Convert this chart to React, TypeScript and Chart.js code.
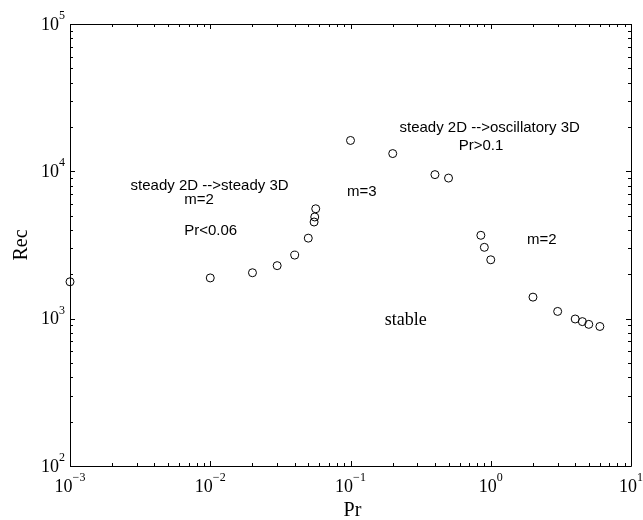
import React, { useEffect, useRef } from "react";
import { Chart, registerables } from "chart.js";

Chart.register(...registerables);

// Data (log-log)
const prValues = [0.001, 0.01, 0.02, 0.03, 0.04, 0.05, 0.055, 0.0556, 0.0565, 0.1, 0.2, 0.4, 0.5, 0.85, 0.9, 1.0, 2, 3, 4, 4.5, 5, 6];
const recValues = [1780, 1890, 2050, 2290, 2700, 3520, 4530, 4900, 5570, 16200, 13200, 9500, 9000, 3680, 3050, 2510, 1400, 1120, 995, 955, 915, 885];

// Axis decades (tick labels 10^n)
const xDecades = [-3, -2, -1, 0, 1];
const yDecades = [2, 3, 4, 5];

// Annotation texts and their data-space anchors
const noteTexts = [
  "steady 2D -->steady 3D",
  "m=2",
  "Pr<0.06",
  "m=3",
  "steady 2D -->oscillatory 3D",
  "Pr>0.1",
  "m=2",
  "stable",
];
const noteX = [0.00989, 0.00832, 0.01007, 0.1202, 0.983, 0.852, 2.31, 0.2476];
const noteY = [7980, 6385, 3936, 7280, 19600, 14920, 3420, 979];
const noteSerif = [false, false, false, false, false, false, false, true];

const xTitle = "Pr";
const yTitle = "Rec";

const SERIF = "'Liberation Serif', 'Times New Roman', 'DejaVu Serif', serif";
const SANS = "'Liberation Sans', Arial, 'DejaVu Sans', sans-serif";

const framePlugin = {
  id: "matlabFrame",
  afterDraw(chart: any) {
    const ctx: CanvasRenderingContext2D = chart.ctx;
    const xs = chart.scales.x;
    const ys = chart.scales.y;
    const { left, right, top, bottom } = chart.chartArea;
    ctx.save();
    ctx.strokeStyle = "#000";
    ctx.fillStyle = "#000";
    ctx.lineWidth = 1;
    // frame
    ctx.beginPath();
    ctx.rect(Math.round(left) + 0.5, Math.round(top) + 0.5, Math.round(right - left), Math.round(bottom - top));
    ctx.stroke();

    const majorLen = 5;
    const minorLen = 3;
    // x ticks
    for (let i = 0; i < xDecades.length; i++) {
      const d = xDecades[i];
      for (let k = 1; k <= 9; k++) {
        if (k > 1 && i === xDecades.length - 1) break;
        const v = k * Math.pow(10, d);
        const px = Math.round(xs.getPixelForValue(v)) + 0.5;
        const len = k === 1 ? majorLen : minorLen;
        ctx.beginPath();
        ctx.moveTo(px, bottom);
        ctx.lineTo(px, bottom - len);
        ctx.moveTo(px, top);
        ctx.lineTo(px, top + len);
        ctx.stroke();
      }
    }
    // y ticks
    for (let i = 0; i < yDecades.length; i++) {
      const d = yDecades[i];
      for (let k = 1; k <= 9; k++) {
        if (k > 1 && i === yDecades.length - 1) break;
        const v = k * Math.pow(10, d);
        const py = Math.round(ys.getPixelForValue(v)) + 0.5;
        const len = k === 1 ? majorLen : minorLen;
        ctx.beginPath();
        ctx.moveTo(left, py);
        ctx.lineTo(left + len, py);
        ctx.moveTo(right, py);
        ctx.lineTo(right - len, py);
        ctx.stroke();
      }
    }

    const baseFont = "18px " + SERIF;
    const expFont = "12px " + SERIF;
    ctx.textBaseline = "middle";
    ctx.textAlign = "left";
    // x labels
    for (const d of xDecades) {
      const px = xs.getPixelForValue(Math.pow(10, d));
      const expStr = d < 0 ? "\u2212" + Math.abs(d) : String(d);
      ctx.font = baseFont;
      const wb = ctx.measureText("10").width;
      ctx.font = expFont;
      const we = ctx.measureText(expStr).width;
      const x0 = px - (wb + we) / 2;
      ctx.font = baseFont;
      ctx.fillText("10", x0, bottom + 21);
      ctx.font = expFont;
      ctx.fillText(expStr, x0 + wb, bottom + 12);
    }
    // y labels
    for (const d of yDecades) {
      const py = ys.getPixelForValue(Math.pow(10, d));
      const expStr = d < 0 ? "\u2212" + Math.abs(d) : String(d);
      ctx.font = expFont;
      const we = ctx.measureText(expStr).width;
      ctx.font = baseFont;
      const wb = ctx.measureText("10").width;
      const xe = left - 5 - we;
      ctx.fillText("10", xe - wb, py + 1);
      ctx.font = expFont;
      ctx.fillText(expStr, xe, py - 8);
    }

    // axis titles
    ctx.font = "20px " + SERIF;
    ctx.textAlign = "center";
    ctx.fillText(xTitle, (left + right) / 2 + 2, bottom + 45);
    ctx.save();
    ctx.translate(22, (top + bottom) / 2);
    ctx.rotate(-Math.PI / 2);
    ctx.fillText(yTitle, 0, 0);
    ctx.restore();

    // annotations
    for (let i = 0; i < noteTexts.length; i++) {
      ctx.font = noteSerif[i] ? "18px " + SERIF : "15px " + SANS;
      ctx.fillText(noteTexts[i], xs.getPixelForValue(noteX[i]), ys.getPixelForValue(noteY[i]));
    }
    ctx.restore();
  },
};

export default function App() {
  const canvasRef = useRef<HTMLCanvasElement | null>(null);
  useEffect(() => {
    if (!canvasRef.current) return;
    const chart = new Chart(canvasRef.current, {
      type: "scatter",
      data: {
        datasets: [
          {
            data: prValues.map((x, i) => ({ x, y: recValues[i] })),
            pointStyle: "circle",
            pointRadius: 4,
            pointBorderWidth: 1,
            pointBorderColor: "#000",
            pointBackgroundColor: "rgba(0,0,0,0)",
            clip: false as any,
          },
        ],
      },
      options: {
        animation: false,
        responsive: false,
        devicePixelRatio: 1,
        layout: { padding: { left: 70, top: 24, right: 12, bottom: 54 } },
        plugins: { legend: { display: false }, tooltip: { enabled: false } },
        events: [],
        scales: {
          x: { type: "logarithmic", min: 0.001, max: 10, display: false },
          y: { type: "logarithmic", min: 100, max: 100000, display: false },
        },
      },
      plugins: [framePlugin],
    });
    return () => chart.destroy();
  }, []);
  return (
    <div style={{ position: "fixed", left: 0, top: 0, width: 643, height: 520, background: "#fff" }}>
      <canvas ref={canvasRef} width={643} height={520} style={{ width: 643, height: 520, display: "block" }} />
    </div>
  );
}
